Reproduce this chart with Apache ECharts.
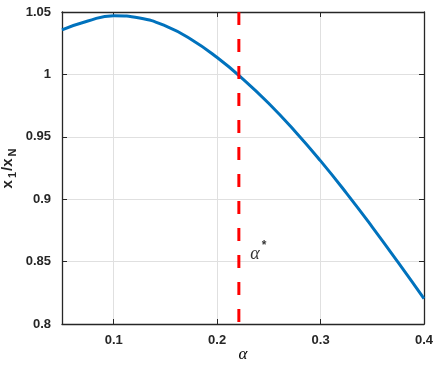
<!DOCTYPE html>
<html>
<head>
<meta charset="utf-8">
<script src="https://cdn.jsdelivr.net/npm/echarts@6/dist/echarts.min.js"></script>
<style>
  html, body { margin: 0; padding: 0; background: #fff; }
  #chart { width: 434px; height: 370px; }
</style>
</head>
<body>
<div id="chart"></div>
<script>
var alphaValues = [0.05, 0.075, 0.1, 0.125, 0.15, 0.175, 0.2, 0.225, 0.25, 0.275, 0.3, 0.325, 0.35, 0.375, 0.4];
var ratioValues = [1.0356, 1.0428, 1.0470, 1.0452, 1.0388, 1.0280, 1.0135, 0.9963, 0.9767, 0.9547, 0.9307, 0.9049, 0.8777, 0.8494, 0.8204];
var alphaStar = 0.221;
var xTicks = [0.1, 0.2, 0.3, 0.4];

var curve = alphaValues.map(function (a, i) { return [a, ratioValues[i]]; });

var axisColor = '#262626';
var tickFont = { color: axisColor, fontSize: 13, fontWeight: 'bold', fontFamily: 'Liberation Sans, Arial, sans-serif' };

var myChart = echarts.init(document.getElementById('chart'));
var option = {
    animation: false,
    grid: { left: 62, right: 10, top: 12, bottom: 46, containLabel: false, outerBoundsMode: 'none' },
    xAxis: [
        {
            type: 'value',
            min: 0.05,
            max: 0.4,
            name: 'α',
            nameLocation: 'middle',
            nameGap: 22,
            nameMoveOverlap: false,
            nameTextStyle: { fontFamily: 'Liberation Serif, serif', fontStyle: 'italic', fontSize: 17, color: '#000' },
            axisLine: { onZero: false, lineStyle: { color: axisColor, width: 1.3 } },
            axisTick: { inside: true, length: 5, customValues: xTicks, lineStyle: { color: axisColor } },
            axisLabel: Object.assign({ margin: 10, customValues: xTicks }, tickFont),
            splitLine: { show: true, lineStyle: { color: '#e0e0e0', width: 1 } }
        },
        {
            type: 'value',
            position: 'top',
            min: 0.05,
            max: 0.4,
            axisLine: { show: true, onZero: false, lineStyle: { color: axisColor, width: 1.3 } },
            axisTick: { show: true, inside: true, length: 5, customValues: xTicks, lineStyle: { color: axisColor } },
            axisLabel: { show: false },
            splitLine: { show: false }
        }
    ],
    yAxis: [
        {
            type: 'value',
            min: 0.8,
            max: 1.05,
            interval: 0.05,
            name: '{m|x}{s|1}{m|/x}{s|N}',
            nameLocation: 'middle',
            nameGap: 44,
            nameMoveOverlap: false,
            nameTextStyle: {
                color: axisColor,
                rich: {
                    m: { fontSize: 15, fontWeight: 'bold', fontFamily: 'Liberation Sans, Arial, sans-serif', color: axisColor },
                    s: { fontSize: 11, fontWeight: 'bold', fontFamily: 'Liberation Sans, Arial, sans-serif', color: axisColor, padding: [9, 1, 0, 2] }
                }
            },
            axisLine: { show: true, onZero: false, lineStyle: { color: axisColor, width: 1.3 } },
            axisTick: { inside: true, length: 5, lineStyle: { color: axisColor } },
            axisLabel: Object.assign({ margin: 11 }, tickFont),
            splitLine: { show: true, lineStyle: { color: '#e0e0e0', width: 1 } }
        },
        {
            type: 'value',
            position: 'right',
            min: 0.8,
            max: 1.05,
            interval: 0.05,
            axisLine: { show: true, onZero: false, lineStyle: { color: axisColor, width: 1.3 } },
            axisTick: { show: true, inside: true, length: 5, lineStyle: { color: axisColor } },
            axisLabel: { show: false },
            splitLine: { show: false }
        }
    ],
    series: [
        {
            type: 'line',
            data: curve,
            smooth: true,
            symbol: 'none',
            lineStyle: { color: '#0072BD', width: 3 },
            z: 3
        },
        {
            type: 'line',
            data: [[alphaStar, 1.05], [alphaStar, 0.8]],
            symbol: 'none',
            lineStyle: { color: '#ff0000', width: 3, type: [13, 14] },
            z: 4
        },
        {
            type: 'scatter',
            data: [[0.232, 0.856]],
            symbolSize: 0,
            label: {
                show: true,
                position: 'right',
                distance: 0,
                formatter: '{a|α}{s|*}',
                rich: {
                    a: { fontFamily: 'Liberation Serif, serif', fontStyle: 'italic', fontSize: 18, color: '#000' },
                    s: { fontFamily: 'Liberation Sans, Arial, sans-serif', fontSize: 12, fontWeight: 'bold', color: '#000', padding: [0, 0, 16, 2] }
                }
            }
        }
    ]
};
myChart.setOption(option);
</script>
</body>
</html>
